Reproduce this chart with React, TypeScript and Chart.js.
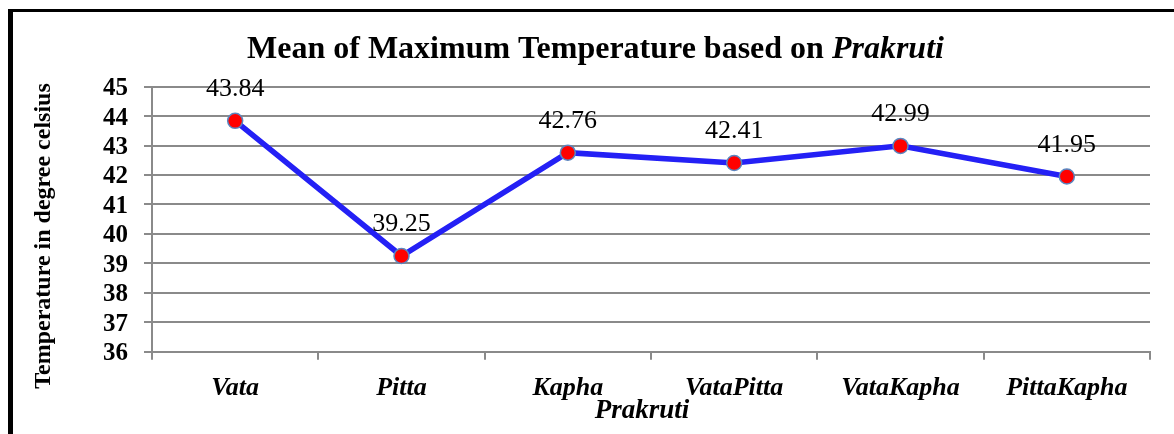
import React, { useEffect, useRef } from "react";
import { Chart, registerables } from "chart.js";

Chart.register(...registerables);

const categories = ["Vata", "Pitta", "Kapha", "VataPitta", "VataKapha", "PittaKapha"];
const meanMaxTemp = [43.84, 39.25, 42.76, 42.41, 42.99, 41.95];
const yMin = 36;
const yMax = 45;

const SERIF = "'Liberation Serif', 'Times New Roman', serif";
const GRID = "#8a8a8a";

// Frame, mixed-style title, rotated y title, x title and point labels
const decorations = {
  id: "decorations",
  afterDraw(chart: any) {
    const ctx = chart.ctx as CanvasRenderingContext2D;
    ctx.save();

    // black frame on the left and top
    ctx.fillStyle = "#000";
    ctx.fillRect(8, 9, 5, 434);
    ctx.fillRect(8, 9, 1174, 3);

    // title: plain bold part + bold italic "Prakruti"
    const t1 = "Mean of Maximum Temperature based on ";
    const t2 = "Prakruti";
    const f1 = `bold 32px ${SERIF}`;
    const f2 = `italic bold 32px ${SERIF}`;
    ctx.font = f1;
    const w1 = ctx.measureText(t1).width;
    ctx.font = f2;
    const w2 = ctx.measureText(t2).width;
    const tx = 595.5 - (w1 + w2) / 2;
    ctx.fillStyle = "#000";
    ctx.textBaseline = "alphabetic";
    ctx.textAlign = "left";
    ctx.font = f1;
    ctx.fillText(t1, tx, 58);
    ctx.font = f2;
    ctx.fillText(t2, tx + w1, 58);

    // x axis title
    ctx.font = `italic bold 27px ${SERIF}`;
    ctx.textAlign = "center";
    ctx.fillText("Prakruti", 642, 418);

    // y axis title
    ctx.save();
    ctx.translate(50, 236);
    ctx.rotate(-Math.PI / 2);
    ctx.font = `bold 24px ${SERIF}`;
    ctx.textAlign = "center";
    ctx.fillText("Temperature in degree celsius", 0, 0);
    ctx.restore();

    // value labels above each point
    const meta = chart.getDatasetMeta(0);
    ctx.font = `26px ${SERIF}`;
    ctx.textAlign = "center";
    meta.data.forEach((pt: any, i: number) => {
      ctx.fillText(meanMaxTemp[i].toFixed(2), pt.x, pt.y - 25);
    });

    ctx.restore();
  },
};

export default function App() {
  const ref = useRef<HTMLCanvasElement | null>(null);

  useEffect(() => {
    if (!ref.current) return;
    const chart = new Chart(ref.current, {
      type: "line",
      data: {
        labels: categories,
        datasets: [
          {
            data: meanMaxTemp,
            borderColor: "#2420f5",
            borderWidth: 5.5,
            pointBackgroundColor: "#ff0000",
            pointBorderColor: "#5a86c0",
            pointBorderWidth: 1.5,
            pointRadius: 7.5,
            tension: 0,
            fill: false,
          },
        ],
      },
      options: {
        animation: false,
        responsive: false,
        layout: { padding: { top: 86.7, right: 24, left: 0, bottom: 0 } },
        plugins: {
          legend: { display: false },
          title: { display: false },
          tooltip: { enabled: false },
        },
        scales: {
          x: {
            offset: true,
            grid: {
              display: true,
              drawOnChartArea: false,
              drawTicks: true,
              tickLength: 8,
              color: GRID,
              lineWidth: 2,
              offset: true,
            },
            border: { display: true, color: GRID, width: 2 },
            ticks: {
              color: "#000",
              font: { family: SERIF, size: 26, weight: "bold", style: "italic" },
              padding: 13,
              maxRotation: 0,
              autoSkip: false,
            },
            afterFit(scale: any) {
              scale.height = 434 - 351.7;
            },
          },
          y: {
            min: yMin,
            max: yMax,
            ticks: {
              stepSize: 1,
              autoSkip: false,
              color: "#000",
              font: { family: SERIF, size: 25, weight: "bold" },
              padding: 16,
              labelOffset: 2,
            },
            grid: {
              color: GRID,
              lineWidth: 2,
              tickLength: 8,
            },
            border: { display: true, color: GRID, width: 2 },
            afterFit(scale: any) {
              scale.width = 152;
            },
          },
        },
      },
      plugins: [decorations],
    });
    return () => chart.destroy();
  }, []);

  return (
    <div style={{ position: "fixed", left: 0, top: 0, width: 1174, height: 434, background: "#fff" }}>
      <canvas ref={ref} width={1174} height={434} style={{ display: "block" }} />
    </div>
  );
}
